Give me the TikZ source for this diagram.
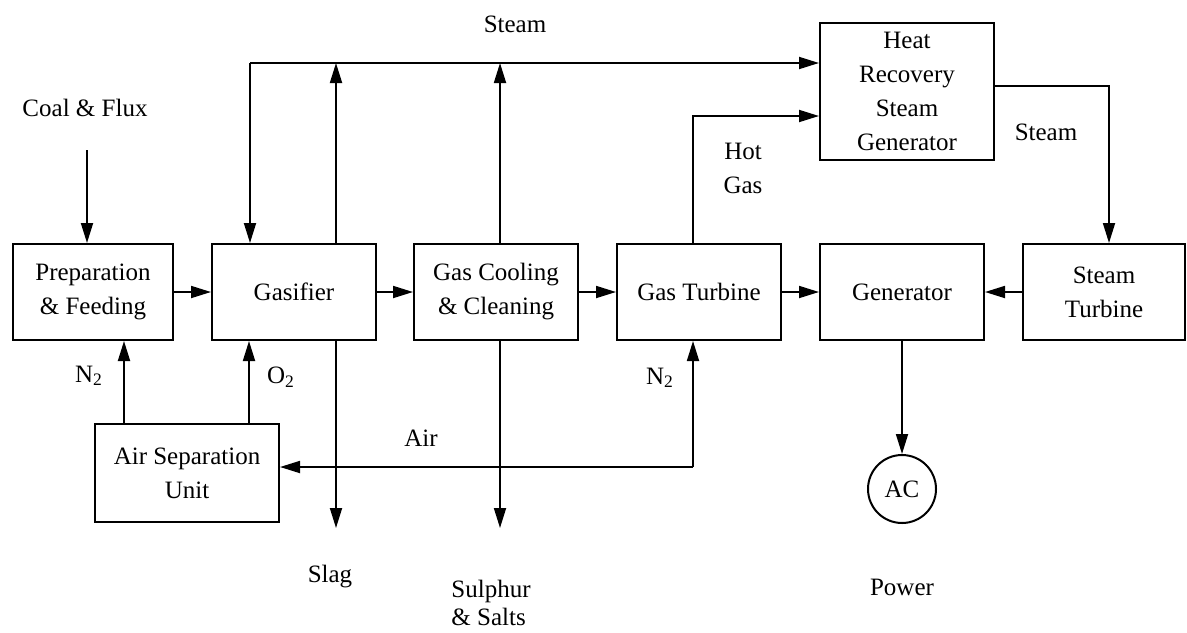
\documentclass[tikz,border=0pt]{standalone}
\usepackage{fontspec}
\setmainfont{Liberation Serif}
\usepackage{tikz}
\usetikzlibrary{arrows.meta,positioning,calc}

\begin{document}
\begin{tikzpicture}[
    x=0.5pt, y=-0.5pt,
    font=\fontsize{12.5pt}{17pt}\selectfont,
    block/.style={
        draw,
        line width=1pt,
        align=center,
        minimum width=82pt,
        minimum height=48pt,
        inner sep=2pt
    },
    label/.style={
        align=center,
        inner sep=1pt
    },
    arrow/.style={-{Triangle[length=10pt,width=6pt]}, line width=0.9pt}
]
\useasboundingbox (0,0) rectangle (1187,632);

% Main process line
\node[block, minimum width=80pt] (prep) at (93,292) {Preparation\\\& Feeding};
\node[block] (gasifier) at (294,292) {Gasifier};
\node[block] (gcc) at (496,292) {Gas Cooling\\\& Cleaning};
\node[block] (gt) at (699,292) {Gas Turbine};
\node[block] (gen) at (902,292) {Generator};
\node[block, minimum width=81pt] (st) at (1104,292) {Steam\\Turbine};

\node[block, minimum width=87pt, minimum height=68.5pt] (hrsg) at (907,91.5)
{Heat\\Recovery\\Steam\\Generator};

\node[block, minimum width=92pt, minimum height=49pt] (asu) at (187,473)
{Air Separation\\Unit};

\node[draw, circle, line width=1pt, minimum size=34pt, inner sep=0pt] (ac) at (902,489) {AC};

% Stream labels
\node[label] (coallbl) at (85,108) {Coal \& Flux};
\node[label] (steamlbl) at (515,24) {Steam};
\node[label] (steamrlbl) at (1046,132) {Steam};
\node[label] (hotlbl) at (743,168) {Hot\\Gas};
\node[label] (n2lbl) at (89,376) {N\textsubscript{2}};
\node[label] (o2lbl) at (281,377) {O\textsubscript{2}};
\node[label] (n2gtlbl) at (660,378) {N\textsubscript{2}};
\node[label] (airlbl) at (421,438) {Air};
\node[label] (slaglbl) at (330,577) {Slag};
\node[label, align=left] (sulphurlbl) at (491,603) {Sulphur\\[-3pt]\& Salts};
\node[label] (powerlbl) at (902,587) {Power};

% Free ends and corners
\coordinate (coal) at (87,150);
\coordinate (steamL) at (250,63);
\coordinate (slag) at (336,528);
\coordinate (sulphur) at (500,528);
\coordinate (hotgas) at (693,116);
\coordinate (airN) at (693,467);
\coordinate (hrsgst) at (1109,86);

\draw[arrow] (coal) -- (coal |- prep.north);
\draw[arrow] (prep) -- (gasifier);
\draw[arrow] (gasifier) -- (gcc);
\draw[arrow] (gcc) -- (gt);
\draw[arrow] (gt) -- (gen);
\draw[arrow] (st) -- (gen);
\draw[arrow] (gen) -- (ac);

% Steam header
\draw[arrow] (steamL) -- (steamL |- gasifier.north);
\draw[arrow] (steamL) -- (steamL -| hrsg.west);
\draw[arrow] (slag |- gasifier.north) -- (slag |- steamL);
\draw[arrow] (sulphur |- gcc.north) -- (sulphur |- steamL);
\draw[arrow] (hotgas |- gt.north) -- (hotgas) -- (hotgas -| hrsg.west);
\draw[arrow] (hrsg.east |- hrsgst) -- (hrsgst) -- (hrsgst |- st.north);

% Slag and sulphur out
\draw[arrow] (slag |- gasifier.south) -- (slag);
\draw[arrow] (sulphur |- gcc.south) -- (sulphur);

% Air separation loop
\draw[arrow] (airN) -- (airN -| asu.east);
\draw[arrow] (airN) -- (airN |- gt.south);
\draw[arrow] ([xshift=-31.5pt]asu.north) -- ([xshift=-31.5pt]asu.north |- prep.south);
\draw[arrow] ([xshift=31pt]asu.north) -- ([xshift=31pt]asu.north |- gasifier.south);

\end{tikzpicture}
\end{document}
